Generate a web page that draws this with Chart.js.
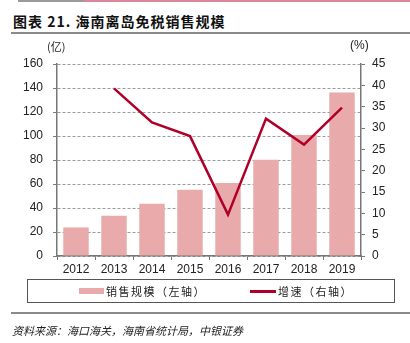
<!DOCTYPE html>
<html>
<head>
<meta charset="utf-8">
<script src="https://cdn.jsdelivr.net/npm/chart.js@4/dist/chart.umd.min.js"></script>
<style>
    body { margin: 0; background: #fff; }
    #wrap { position: relative; width: 410px; height: 343px; overflow: hidden; font-family: "Noto Sans CJK SC", sans-serif; }
    #chart { position: absolute; left: 0; top: 0; }
    .abs { position: absolute; white-space: nowrap; }
</style>
</head>
<body>
<div id="wrap">
    <div class="abs" style="left:18px;top:0;width:66px;height:2px;background:#9a9a9a;"></div>
    <div class="abs" style="left:84px;top:0;width:326px;height:2px;background:#d9879a;"></div>
    <div class="abs" style="left:13px;top:11px;font-size:14px;font-weight:bold;color:#111;letter-spacing:1px;">图表 21. 海南离岛免税销售规模</div>
    <div class="abs" style="left:11px;top:32px;width:399px;height:1.5px;background:#8a8a8a;"></div>
    <canvas id="chart" width="410" height="343"></canvas>
    <div class="abs" style="left:47px;top:38px;font-size:11px;color:#222;">(亿)</div>
    <div class="abs" style="left:350px;top:38px;font-size:12px;color:#222;font-family:'Liberation Sans',Arial,sans-serif;">(%)</div>
    <div class="abs" style="left:27px;top:279px;width:366px;height:22px;border:1.5px solid #555;"></div>
    <div class="abs" style="left:79px;top:288px;width:25px;height:6px;background:#e8aaaa;"></div>
    <div class="abs" style="left:106px;top:283px;font-size:11px;color:#222;letter-spacing:1.5px;">销售规模（左轴）</div>
    <div class="abs" style="left:250px;top:290px;width:26px;height:2.5px;background:#b0002a;"></div>
    <div class="abs" style="left:278px;top:283px;font-size:11px;color:#222;letter-spacing:1.5px;">增速（右轴）</div>
    <div class="abs" style="left:11px;top:312px;width:399px;height:1.5px;background:#8a8a8a;"></div>
    <div class="abs" style="left:12px;top:322px;font-size:11px;font-style:italic;color:#222;">资料来源：海口海关，海南省统计局，中银证券</div>
</div>
<script>
// data
const years = ['2012', '2013', '2014', '2015', '2016', '2017', '2018', '2019'];
const salesScale = [23.8, 33.6, 43.6, 55.2, 60.8, 80.3, 100.8, 136.3];   // 亿
const growthRate = [null, 39.3, 31.3, 28.1, 9.7, 32.2, 26.1, 34.8];     // %

const tickFont = { family: "'Liberation Sans', Arial, sans-serif", size: 12 };

new Chart(document.getElementById('chart').getContext('2d'), {
    data: {
        labels: years,
        datasets: [
            {
                type: 'line',
                label: '增速（右轴）',
                data: growthRate,
                yAxisID: 'yRight',
                borderColor: '#b0002a',
                borderWidth: 2.5,
                pointRadius: 0,
                tension: 0,
                order: 0
            },
            {
                type: 'bar',
                label: '销售规模（左轴）',
                data: salesScale,
                yAxisID: 'yLeft',
                backgroundColor: '#e8aaaa',
                barPercentage: 0.67,
                categoryPercentage: 1,
                order: 1
            }
        ]
    },
    options: {
        responsive: false,
        animation: false,
        layout: { padding: { top: 64, bottom: 57, left: 0, right: 0 } },
        plugins: {
            legend: { display: false },
            tooltip: { enabled: false }
        },
        scales: {
            x: {
                afterFit: function(scale) { scale.height = 30; },
                ticks: { color: '#222', font: tickFont, padding: 2 },
                grid: { drawOnChartArea: false, tickLength: 4, color: '#777' },
                border: { color: '#777', width: 1.5 }
            },
            yLeft: {
                position: 'left',
                min: 0,
                max: 160,
                afterFit: function(scale) { scale.width = 57; },
                ticks: { stepSize: 20, color: '#222', font: tickFont, padding: 10 },
                grid: { color: '#9a9a9a', tickColor: '#777', tickLength: 4, lineWidth: 1 },
                border: { color: '#777', width: 1.5, dash: [3, 2] }
            },
            yRight: {
                position: 'right',
                min: 0,
                max: 45,
                afterFit: function(scale) { scale.width = 49; },
                ticks: { stepSize: 5, color: '#222', font: tickFont, padding: 7 },
                grid: { drawOnChartArea: false, color: '#777', tickLength: 4 },
                border: { color: '#777', width: 1.5 }
            }
        }
    }
});
</script>
</body>
</html>
